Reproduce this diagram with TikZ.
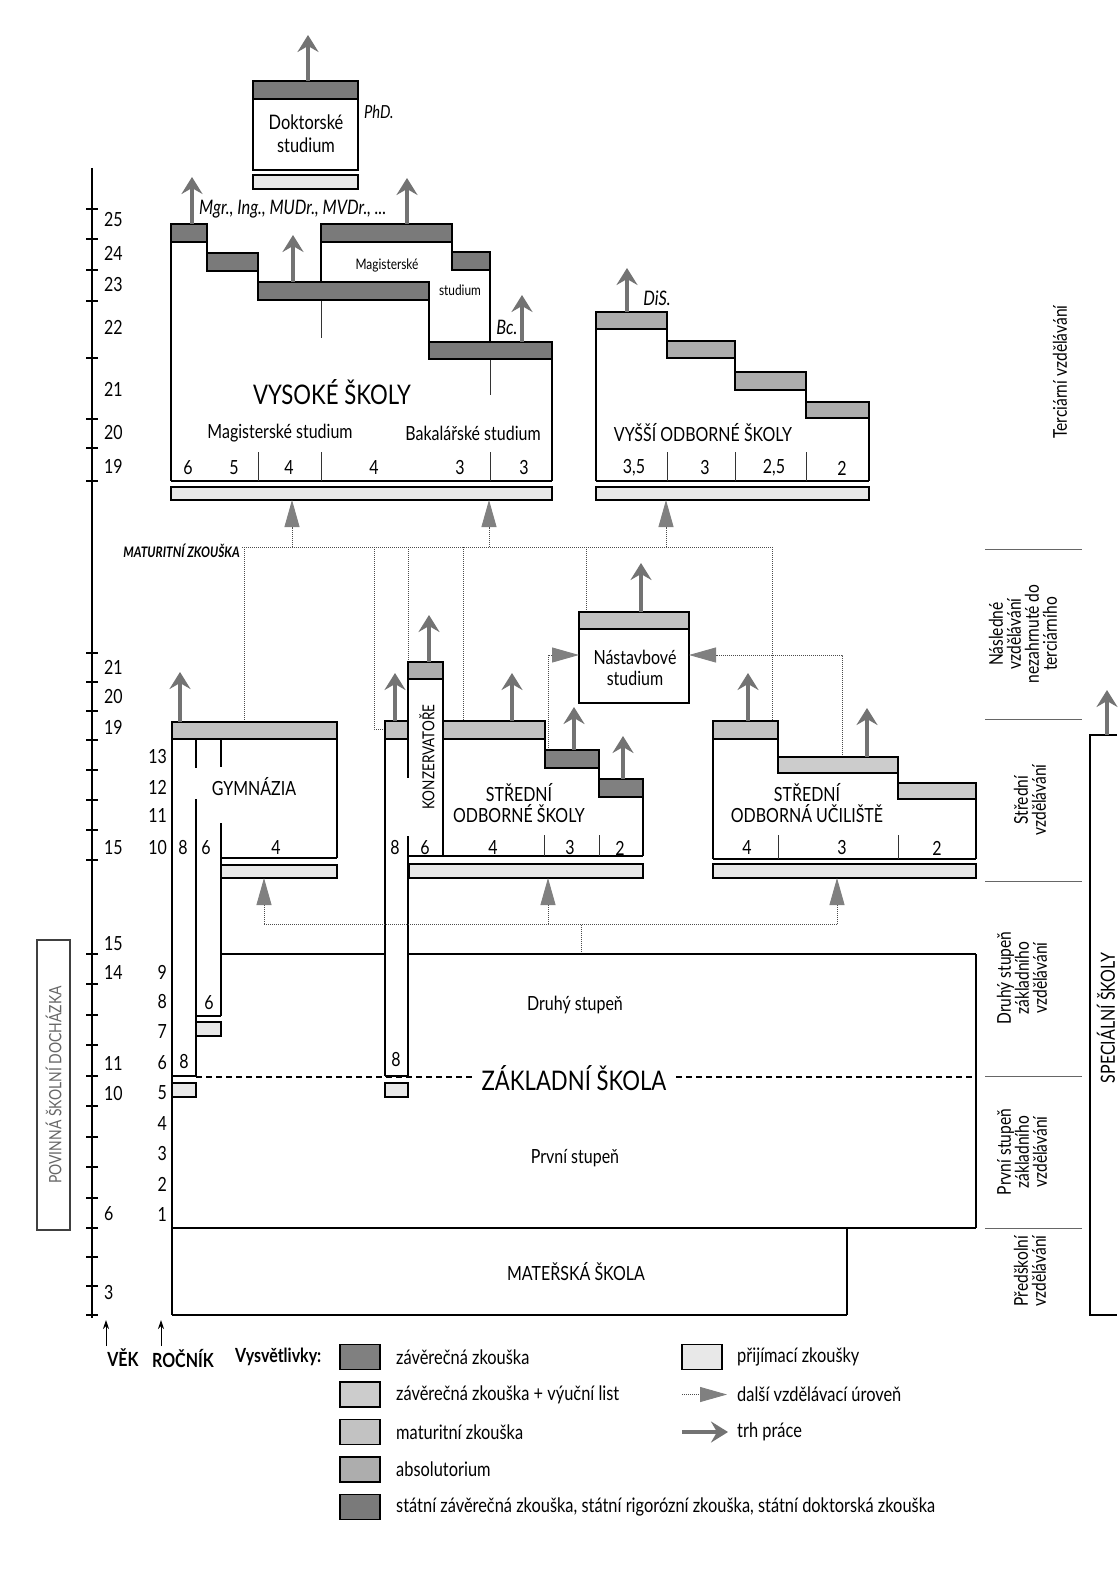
\documentclass[tikz,border=0pt]{standalone}
\usepackage{fontspec}
\setmainfont{Lato}[FakeStretch=0.82]
\usetikzlibrary{arrows.meta}
\definecolor{cDark}{gray}{0.48}
\definecolor{cZav}{gray}{0.50}
\definecolor{cVyu}{gray}{0.80}
\definecolor{cMat}{gray}{0.76}
\definecolor{cAbs}{gray}{0.68}
\definecolor{cPri}{gray}{0.91}
\newcommand\myfs[2]{\fontsize{#1}{#2}\selectfont}
\begin{document}
\begin{tikzpicture}[x=1pt,y=-1pt,
  lab/.style={inner sep=0pt, font=\myfs{19.5}{21}},
  big/.style={inner sep=0pt, font=\myfs{27}{30}},
  sm/.style={inner sep=0pt, font=\myfs{14.5}{16}},
  itl/.style={inner sep=0pt, font=\myfs{20}{22}\itshape},
  side/.style={inner sep=0pt, font=\myfs{19}{18}, rotate=90, align=center},
  ol/.style={draw=black, line width=1.3pt},
  thk/.style={draw=black, line width=2.2pt},
  bar/.style={draw=black, line width=1.1pt},
  thinl/.style={draw=black!80, line width=0.8pt},
  job/.style={draw=black!55, line width=3.6pt, -{Stealth[length=17pt,width=21pt,inset=6pt]}},
  conn/.style={draw=black!70, line width=0.9pt, dash pattern=on 1.2pt off 0.8pt},
  nxt/.style={conn, -{Triangle[length=27pt,width=15pt,color=black!50]}},
  sepl/.style={draw=black!60, line width=0.8pt},
  tick/.style={draw=black, line width=1.1pt}]
\useasboundingbox (0,0) rectangle (1117,1594);
\fill[white] (0,0) rectangle (1117,1594);

% ---------------- Doktorske studium
\draw[ol] (253,81) rectangle (358,170);
\filldraw[bar, fill=cDark] (253,81) rectangle (358,99);
\filldraw[bar, fill=cPri] (253,175) rectangle (358,189);
\node[lab, align=center, font=\myfs{20}{23}] (dok) at (306,134) {Doktorské\\studium};
\node[itl, anchor=west, font=\myfs{18}{20}\itshape] (phd) at (364,112) {PhD.};
\draw[job] (308,81) -- (308,35);

% ---------------- Vysoke skoly
\draw[ol] (171,481) -- (171,224) -- (207,224) -- (207,253) -- (258,253) -- (258,282) -- (429,282) -- (429,342) -- (552,342) -- (552,481);
\draw[ol] (321,282) -- (321,224) -- (452,224) -- (452,252) -- (490,252) -- (490,342);
\draw[thk] (171,481) -- (552,481);
\draw[thinl] (321,300) -- (321,338);
\draw[thinl] (490,359) -- (490,395);
\foreach \xx in {258,321,490} \draw[thinl] (\xx,452) -- (\xx,481);
\filldraw[bar, fill=cDark] (171,224) rectangle (207,242);
\filldraw[bar, fill=cDark] (207,253) rectangle (258,271);
\filldraw[bar, fill=cDark] (258,282) rectangle (429,300);
\filldraw[bar, fill=cDark] (321,224) rectangle (452,242);
\filldraw[bar, fill=cDark] (452,252) rectangle (490,270);
\filldraw[bar, fill=cDark] (429,342) rectangle (552,359);
\filldraw[bar, fill=cPri] (171,487) rectangle (552,500);
\draw[job] (192,224) -- (192,177);
\draw[job] (407,224) -- (407,178);
\draw[job] (293,282) -- (293,235);
\draw[job] (522,342) -- (522,295);
\node[itl, anchor=west] (tit) at (199,209) {Mgr., Ing., MUDr., MVDr., ...};
\node[sm] (mag1) at (387,265) {Magisterské};
\node[sm] (mag2) at (460,290) {studium};
\node[itl] (bc) at (507,327) {Bc.};
\node[big] (vs) at (332,392) {VYSOKÉ ŠKOLY};
\node[lab] (vsm) at (280,433) {Magisterské studium};
\node[lab] (vsb) at (473,433) {Bakalářské studium};
\foreach \xx/\tt in {188/6,234/5,289/4,374/4,460/3,524/3}
  \node[lab] at (\xx,468) {\tt};

% ---------------- VOS
\draw[ol] (596,481) -- (596,312) -- (667,312) -- (667,341) -- (735,341) -- (735,372) -- (806,372) -- (806,402) -- (869,402) -- (869,481);
\draw[thk] (596,481) -- (869,481);
\foreach \xx in {667,735,806} \draw[thinl] (\xx,452) -- (\xx,481);
\filldraw[bar, fill=cAbs] (596,312) rectangle (667,329);
\filldraw[bar, fill=cAbs] (667,341) rectangle (735,358);
\filldraw[bar, fill=cAbs] (735,372) rectangle (806,390);
\filldraw[bar, fill=cAbs] (806,402) rectangle (869,418);
\filldraw[bar, fill=cPri] (596,487) rectangle (869,500);
\draw[job] (627,312) -- (627,268);
\node[itl] (dis) at (657,298) {DiS.};
\node[lab] (vos) at (703,433) {VYŠŠÍ ODBORNÉ ŠKOLY};
\foreach \xx/\tt in {634/{3,5},705/3,774/{2,5},842/2}
  \node[lab] at (\xx,468) {\tt};

% ---------------- maturitni connections
\node[inner sep=0pt, anchor=east, font=\myfs{14.5}{16}\itshape\bfseries] (mat) at (240,551) {MATURITNÍ ZKOUŠKA};
\draw[conn] (242,547) -- (772,547);
\draw[conn] (244,547) -- (244,722);
\draw[conn] (374,547) -- (374,729) -- (385,729);
\draw[conn] (408,547) -- (408,662);
\draw[conn] (463,547) -- (463,721);
\draw[conn] (586,547) -- (586,612);
\draw[conn] (772,547) -- (772,721);
\draw[nxt] (292,547) -- (292,500);
\draw[nxt] (489,547) -- (489,500);
\draw[nxt] (666,547) -- (666,500);

% ---------------- Nastavbove studium
\draw[ol] (579,612) rectangle (689,703);
\filldraw[bar, fill=cMat] (579,612) rectangle (689,629);
\node[lab, align=center, font=\myfs{19.5}{21}] (nas) at (635,668) {Nástavbové\\studium};
\draw[job] (641,612) -- (641,563);
\draw[nxt] (548,750) -- (548,655) -- (579,655);
\draw[nxt] (842,757) -- (842,655) -- (689,655);

% ---------------- Gymnazia
\draw[ol] (172,722) -- (172,1315);
\draw[ol] (196,739) -- (196,768);
\draw[ol] (196,799) -- (196,1076);
\draw[ol] (221,739) -- (221,767);
\draw[ol] (221,823) -- (221,1016);
\draw[ol] (337,739) -- (337,858);
\draw[thk] (221,858) -- (337,858);
\draw[thk] (196,1016) -- (221,1016);
\draw[thk] (172,1076) -- (196,1076);
\filldraw[bar, fill=cMat] (172,722) rectangle (337,739);
\filldraw[bar, fill=cPri] (221,865) rectangle (337,878);
\filldraw[bar, fill=cPri] (196,1022) rectangle (221,1036);
\filldraw[bar, fill=cPri] (172,1083) rectangle (196,1097);
\draw[job] (180,722) -- (180,672);
\node[lab] (gym) at (254,787) {GYMNÁZIA};
\node[lab] at (183,848) {8};
\node[lab] at (206,848) {6};
\node[lab] at (276,848) {4};
\node[lab] at (209,1003) {6};
\node[lab] at (184,1062) {8};

% ---------------- Konzervatore
\draw[ol] (385,739) -- (385,1076);
\draw[ol] (408,679) -- (408,778);
\draw[ol] (408,836) -- (408,1076);
\draw[ol] (443,679) -- (443,856);
\draw[thk] (385,1076) -- (408,1076);
\filldraw[bar, fill=cAbs] (408,662) rectangle (443,679);
\filldraw[bar, fill=cMat] (385,721) rectangle (408,739);
\filldraw[bar, fill=cPri] (385,1083) rectangle (408,1097);
\draw[job] (395,721) -- (395,673);
\draw[job] (429,662) -- (429,615);
\node[inner sep=0pt, rotate=90, font=\myfs{16.5}{18}] (kon) at (427,757) {KONZERVATOŘE};
\node[lab] at (395,848) {8};
\node[lab] at (425,848) {6};
\node[lab] at (396,1060) {8};

% ---------------- SOS
\draw[ol] (545,739) -- (545,750);
\draw[ol] (599,768) -- (599,779);
\draw[ol] (643,797) -- (643,856);
\draw[thk] (408,856) -- (643,856);
\draw[thinl] (544,835) -- (544,856);
\draw[thinl] (599,835) -- (599,856);
\filldraw[bar, fill=cMat] (443,721) rectangle (545,739);
\filldraw[bar, fill=cZav] (545,750) rectangle (599,768);
\filldraw[bar, fill=cZav] (599,779) rectangle (643,797);
\filldraw[bar, fill=cPri] (409,864) rectangle (643,878);
\draw[job] (512,721) -- (512,673);
\draw[job] (574,750) -- (574,707);
\draw[job] (623,779) -- (623,736);
\node[lab, align=center] (sos) at (519,803) {STŘEDNÍ\\ODBORNÉ ŠKOLY};
\node[lab] at (493,848) {4};
\node[lab] at (570,848) {3};
\node[lab] at (620,848) {2};

% ---------------- SOU
\draw[ol] (713,739) -- (713,859);
\draw[ol] (778,739) -- (778,757);
\draw[ol] (898,773) -- (898,783);
\draw[ol] (976,799) -- (976,859);
\draw[thk] (713,859) -- (976,859);
\draw[thinl] (778,835) -- (778,859);
\draw[thinl] (898,835) -- (898,859);
\filldraw[bar, fill=cMat] (713,721) rectangle (778,739);
\filldraw[bar, fill=cVyu] (778,757) rectangle (898,773);
\filldraw[bar, fill=cVyu] (898,783) rectangle (976,799);
\filldraw[bar, fill=cPri] (713,864) rectangle (976,878);
\draw[job] (748,721) -- (748,673);
\draw[job] (867,757) -- (867,708);
\node[lab, align=center] (sou) at (807,803) {STŘEDNÍ\\ODBORNÁ UČILIŠTĚ};
\node[lab] at (747,848) {4};
\node[lab] at (842,848) {3};
\node[lab] at (937,848) {2};

% ---------------- ZS -> secondary
\draw[conn] (581,954) -- (581,924);
\draw[conn] (264,924) -- (837,924);
\draw[nxt] (264,924) -- (264,878);
\draw[nxt] (548,924) -- (548,878);
\draw[nxt] (837,924) -- (837,878);

% ---------------- Zakladni skola + MS
\draw[thk] (221,954) -- (385,954);
\draw[thk] (408,954) -- (976,954);
\draw[ol] (976,954) -- (976,1228);
\draw[thk] (172,1228) -- (976,1228);
\draw[ol] (847,1228) -- (847,1315);
\draw[thk] (172,1315) -- (847,1315);
\draw[line width=1.2pt, dash pattern=on 6pt off 4pt] (196,1077) -- (976,1077);
\node[inner sep=0pt, fill=white, inner xsep=8pt, font=\myfs{27}{30}] (zs) at (574,1078) {ZÁKLADNÍ ŠKOLA};
\node[lab] (druhy) at (575,1005) {Druhý stupeň};
\node[lab] (prvni) at (575,1158) {První stupeň};
\node[lab] (ms) at (576,1272) {MATEŘSKÁ ŠKOLA};

% ---------------- right column
\foreach \yy in {549,719,881,1076,1228} \draw[sepl] (985,\yy) -- (1082,\yy);
\node[side] (ter) at (1060,372) {Terciární vzdělávání};
\node[side] (nasl) at (1023,634) {Následné\\vzdělávání\\nezahrnuté do\\terciárního};
\node[side] (stre) at (1030,800) {Střední\\vzdělávání};
\node[side] (dru) at (1022,978) {Druhý stupeň\\základního\\vzdělávání};
\node[side] (prv) at (1022,1152) {První stupeň\\základního\\vzdělávání};
\node[side] (pre) at (1030,1271) {Předškolní\\vzdělávání};
\draw[ol] (1117,735) -- (1090,735) -- (1090,1315) -- (1117,1315);
\draw[job] (1107,735) -- (1107,690);
\node[side, font=\myfs{19.5}{20}] (spec) at (1106,1018) {SPECIÁLNÍ ŠKOLY};

% ---------------- left axis
\draw[tick] (92,168) -- (92,1318);
\foreach \yy in {209,239,270,301,358,419,448,481,653,682,711,740,770,800,830,860,954,984,1015,1045,1076,1106,1137,1167,1198,1228,1257,1286,1315}
  \draw[tick] (86,\yy) -- (98,\yy);
\foreach \yy/\tt in {220/25,253/24,285/23,327/22,389/21,433/20,466/19,667/21,697/20,727/19,848/15,944/15,972/14,1063/11,1093/10,1214/6,1292/3}
  \node[lab, anchor=west] at (104,\yy) {\tt};
\foreach \yy/\tt in {757/13,787/12,815/11,848/10,972/9,1002/8,1032/7,1063/6,1093/5,1124/4,1154/3,1184/2,1214/1}
  \node[lab, anchor=east] at (167,\yy) {\tt};
\draw[draw=black!75, line width=1.2pt] (37,940) rectangle (70,1230);
\node[inner sep=0pt, rotate=90, text=black!60, font=\myfs{17}{18}] (pov) at (53.5,1085) {POVINNÁ ŠKOLNÍ DOCHÁZKA};
\draw[line width=0.9pt, -{Stealth[length=9pt,width=6pt]}] (106,1346) -- (106,1320);
\draw[line width=0.9pt, -{Stealth[length=9pt,width=6pt]}] (161,1346) -- (161,1320);
\node[inner sep=0pt, font=\myfs{19.5}{21}\bfseries] (vek) at (123,1358) {VĚK};
\node[inner sep=0pt, font=\myfs{19.5}{21}\bfseries] (roc) at (183,1358) {ROČNÍK};

% ---------------- legend
\node[inner sep=0pt, anchor=west, font=\myfs{19.5}{21}\bfseries] (vys) at (235,1357) {Vysvětlivky:};
\foreach \yy/\cc/\tt in {1357/cZav/{závěrečná zkouška},1394.5/cVyu/{závěrečná zkouška + výuční list},1432/cMat/{maturitní zkouška},1469.5/cAbs/{absolutorium},1507/cDark/{státní závěrečná zkouška, státní rigorózní zkouška, státní doktorská zkouška}}{
  \filldraw[bar, fill=\cc] (340,\yy-12.5) rectangle (380,\yy+12.5);
  \node[lab, anchor=west, font=\myfs{20}{22}] at (396,\yy) {\tt};
}
\filldraw[bar, fill=cPri] (682,1344.5) rectangle (722,1369.5);
\node[lab, anchor=west, font=\myfs{20}{22}] (l1) at (737,1357) {přijímací zkoušky};
\draw[nxt] (682,1394.5) -- (727,1394.5);
\node[lab, anchor=west, font=\myfs{20}{22}] (l2) at (737,1394.5) {další vzdělávací úroveň};
\draw[job] (682,1432) -- (728,1432);
\node[lab, anchor=west, font=\myfs{20}{22}] (l3) at (737,1432) {trh práce};
\end{tikzpicture}
\end{document}
